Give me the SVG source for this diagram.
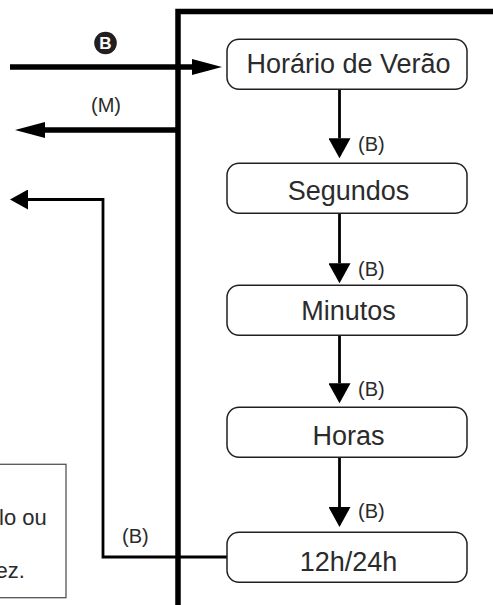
<svg xmlns="http://www.w3.org/2000/svg" width="493" height="605" viewBox="0 0 493 605">
<style>
.box{fill:#fff;stroke:#231f20;stroke-width:1.5}
.lbl{font-family:"Liberation Sans",Arial,sans-serif;font-size:27px;fill:#2b2b2b;text-anchor:middle}
.small{font-family:"Liberation Sans",Arial,sans-serif;font-size:20px;fill:#2b2b2b}
.note{font-family:"Liberation Sans",Arial,sans-serif;font-size:22px;fill:#2b2b2b}
.thick{stroke:#000;stroke-width:5.5;fill:none}
.thin{stroke:#000;stroke-width:2.8;fill:none}
</style>
<defs>
<marker id="hv" markerUnits="userSpaceOnUse" viewBox="0 0 20 22" refX="0" refY="11" markerWidth="20" markerHeight="22" orient="auto">
<path d="M0,0 L20,11 L0,22 z" fill="#000"/>
</marker>
<marker id="hthick" markerUnits="userSpaceOnUse" viewBox="0 0 30 16" refX="0" refY="8" markerWidth="30" markerHeight="16" orient="auto">
<path d="M0,0 L30,8 L0,16 z" fill="#000"/>
</marker>
<marker id="hthin" markerUnits="userSpaceOnUse" viewBox="0 0 18 20" refX="0" refY="10" markerWidth="18" markerHeight="20" orient="auto">
<path d="M0,0 L18,10 L0,20 z" fill="#000"/>
</marker>
</defs>
<rect width="493" height="605" fill="#fff"/>

<g id="note-box">
<rect x="-10" y="464.3" width="76" height="133.4" fill="#fff" stroke="#555" stroke-width="1.3"/>
<text class="note" x="-1" y="525">lo ou</text>
<text class="note" x="-4.5" y="577.5">ez.</text>
</g>

<g id="frame">
<path d="M178,605 L178,11.5 L493,11.5" stroke="#000" stroke-width="5.5" fill="none" stroke-linejoin="miter"/>
</g>

<g id="connectors">
<line class="thick" x1="10" y1="67" x2="192" y2="67" marker-end="url(#hthick)"/>
<line class="thick" x1="178" y1="130" x2="45" y2="130" marker-end="url(#hthick)"/>
<path class="thin" d="M227,557 L103,557 L103,199.5 L28,199.5" marker-end="url(#hthin)"/>
<line class="thin" x1="339.5" y1="89.3" x2="339.5" y2="138.3" marker-end="url(#hv)"/>
<line class="thin" x1="339.5" y1="213.3" x2="339.5" y2="263.3" marker-end="url(#hv)"/>
<line class="thin" x1="339.5" y1="335.3" x2="339.5" y2="383.3" marker-end="url(#hv)"/>
<line class="thin" x1="339.5" y1="457.3" x2="339.5" y2="507" marker-end="url(#hv)"/>
<g id="badge-b">
<circle cx="105.5" cy="43" r="11.3" fill="#231f20"/>
<text x="105.5" y="49" font-family="'Liberation Sans',Arial,sans-serif" font-size="17" font-weight="bold" fill="#fff" text-anchor="middle">B</text>
</g>
<text class="small" x="106" y="112" text-anchor="middle">(M)</text>
<text class="small" x="358" y="151">(B)</text>
<text class="small" x="358" y="276">(B)</text>
<text class="small" x="358" y="396">(B)</text>
<text class="small" x="358" y="517.5">(B)</text>
<text class="small" x="122" y="543">(B)</text>
</g>

<g id="node-horario">
<rect class="box" x="227" y="39.3" width="240" height="50" rx="12"/>
<text class="lbl" x="348.5" y="73.3">Horário de Verão</text>
</g>
<g id="node-segundos">
<rect class="box" x="227" y="163.3" width="240" height="50" rx="12"/>
<text class="lbl" x="348.5" y="199.5">Segundos</text>
</g>
<g id="node-minutos">
<rect class="box" x="227" y="285.3" width="240" height="50" rx="12"/>
<text class="lbl" x="348.5" y="320">Minutos</text>
</g>
<g id="node-horas">
<rect class="box" x="227" y="407.3" width="240" height="50" rx="12"/>
<text class="lbl" x="348.5" y="445">Horas</text>
</g>
<g id="node-1224">
<rect class="box" x="227" y="532.3" width="240" height="50" rx="12"/>
<text class="lbl" x="348.5" y="570.7">12h/24h</text>
</g>
</svg>
